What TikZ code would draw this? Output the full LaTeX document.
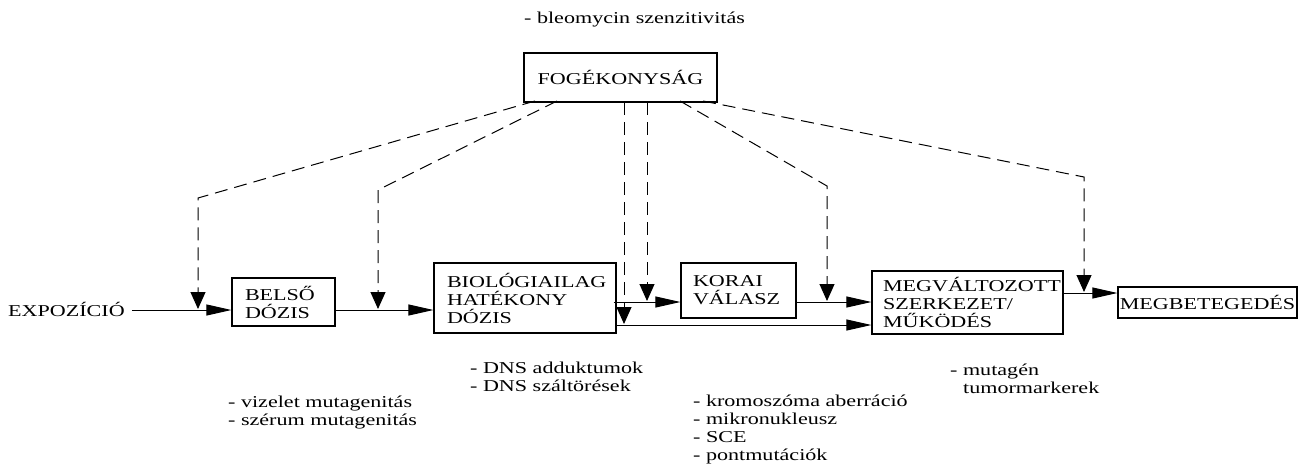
\documentclass[tikz,border=0pt]{standalone}
\usepackage{fontspec}
\setmainfont{Liberation Serif}[FakeStretch=1.33]
\usetikzlibrary{arrows.meta,calc}
\begin{document}
\begin{tikzpicture}[x=1pt,y=-1pt,
  every node/.style={font=\fontsize{16.6}{18}\selectfont},
  box/.style={draw,line width=1.2pt,inner ysep=0pt,align=left},
  lbl/.style={inner sep=0pt,align=left,anchor=base west},
  harrow/.style={line width=1pt,-{Triangle[length=25pt,width=11pt]}},
  darrow/.style={line width=1pt,dash pattern=on 13pt off 7pt,-{Triangle[length=17pt,width=15pt]}}]
\useasboundingbox (0,0) rectangle (1308,469);
% boxes
\node[box,inner xsep=13pt,text width=77pt,minimum height=48pt] (belso) at (283.5,302) {BELSŐ\\DÓZIS};
\node[box,inner xsep=13pt,text width=156pt,minimum height=70pt] (bio) at (525,298) {BIOLÓGIAILAG\\HATÉKONY\\DÓZIS};
\node[box,inner xsep=12pt,text width=91pt,minimum height=55pt] (korai) at (738.5,290.5) {KORAI\\VÁLASZ};
\node[box,inner xsep=11pt,text width=169pt,minimum height=63pt] (megv) at (967.5,302.5) {MEGVÁLTOZOTT\\SZERKEZET/\\MŰKÖDÉS};
\node[box,inner xsep=0pt,minimum width=179pt,minimum height=31pt,align=center] (megbet) at (1207.5,302.5) {MEGBETEGEDÉS};
\node[box,inner xsep=0pt,minimum width=193pt,minimum height=49pt,align=center] (fog) at (620.5,77.5) {FOGÉKONYSÁG};
\node[lbl] (expo) at (8,316) {EXPOZÍCIÓ};
% labels (anchor = baseline of the last line)
\node[lbl] (bleo) at (524,23) {- bleomycin szenzitivitás};
\node[lbl] (dns) at (470,391) {- DNS adduktumok\\- DNS száltörések};
\node[lbl] (viz) at (228,425) {- vizelet mutagenitás\\- szérum mutagenitás};
\node[lbl] (krom) at (693,460) {- kromoszóma aberráció\\- mikronukleusz\\- SCE\\- pontmutációk};
\node[lbl] (mut) at (950,393) {- mutagén\\\hspace*{13pt}tumormarkerek};
% levels
\coordinate (yE) at (0,310);
\coordinate (yA) at (0,302);
\coordinate (yB) at (0,325);
\coordinate (yC) at (0,293);
% solid arrows
\draw[harrow] ([xshift=7pt]expo.east |- yE) -- (belso.west |- yE);
\draw[harrow] (belso.east |- yE) -- (bio.west |- yE);
\draw[harrow] ([xshift=-3pt]bio.east |- yA) -- (korai.west |- yA);
\draw[harrow] (korai.east |- yA) -- (megv.west |- yA);
\draw[harrow] (bio.east |- yB) -- (megv.west |- yB);
\draw[harrow] (megv.east |- yC) -- (megbet.west |- yC);
% dashed arrows from FOGÉKONYSÁG
\coordinate (f1) at (535,101);
\coordinate (f2) at (557,101);
\coordinate (f3) at (624,102);
\coordinate (f4) at (647,102);
\coordinate (f5) at (680,101);
\coordinate (f6) at (703,101);
\coordinate (b1) at (198,198);
\coordinate (b2) at (378,190);
\coordinate (b5) at (827,186);
\coordinate (b6) at (1084,177);
\coordinate (t1) at (198,309);
\coordinate (t2) at (378,309);
\coordinate (t3) at (624,324);
\coordinate (t4) at (647,301);
\coordinate (t5) at (827,301);
\coordinate (t6) at (1084,292);
\draw[darrow] (f1) -- (b1) -- (t1);
\draw[darrow] (f2) -- (b2) -- (t2);
\draw[darrow] (f3) -- (t3);
\draw[darrow] (f4) -- (t4);
\draw[darrow] (f5) -- (b5) -- (t5);
\draw[darrow] (f6) -- (b6) -- (t6);
\end{tikzpicture}
\end{document}
